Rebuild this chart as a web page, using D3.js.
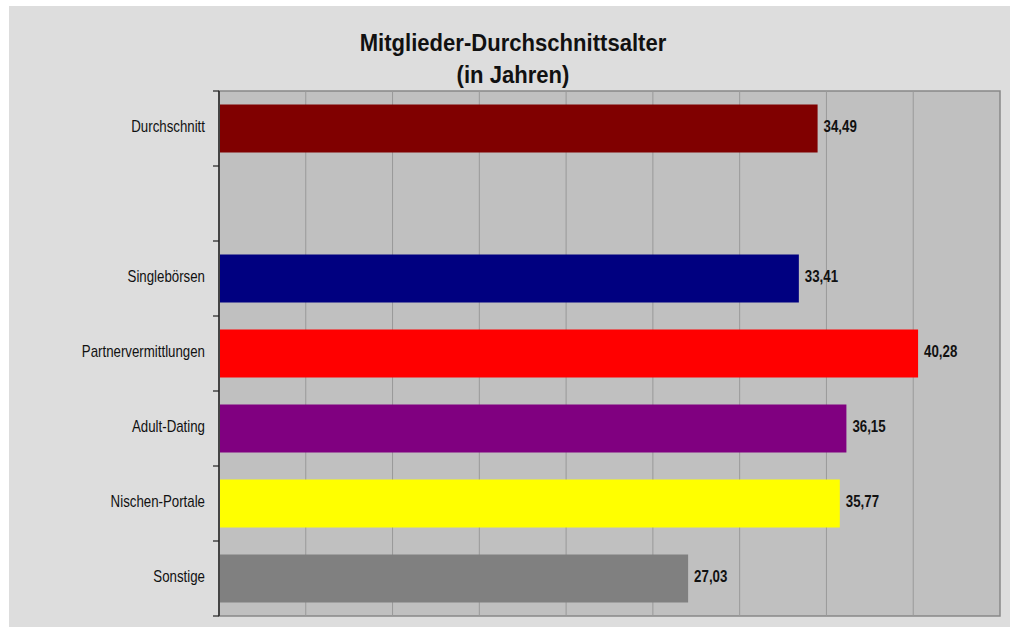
<!DOCTYPE html>
<html>
<head>
<meta charset="utf-8">
<script src="https://cdn.jsdelivr.net/npm/d3@7"></script>
<style>
  body { margin: 0; background: #fff; }
  svg { display: block; }
  text { font-family: "Liberation Sans", Arial, sans-serif; }
</style>
</head>
<body>
<div id="chart"></div>
<script>
var categories = ["Durchschnitt", "", "Singlebörsen", "Partnervermittlungen", "Adult-Dating", "Nischen-Portale", "Sonstige"]
var values = [34.49, null, 33.41, 40.28, 36.15, 35.77, 27.03]
var colors = ["#800000", "none", "#000080", "#ff0000", "#800080", "#ffff00", "#808080"]
var xTicks = [0, 5, 10, 15, 20, 25, 30, 35, 40, 45]
var titleLines = ["Mitglieder-Durchschnittsalter", "(in Jahren)"]

var width = 1011, height = 627
var margin = {top: 91, right: 11, bottom: 11, left: 219}
var w = width - margin.left - margin.right
var h = height - margin.top - margin.bottom

// no narrow font installed, so squeeze Liberation Sans sideways
var narrow = "scale(0.83,1)"

var de = d3.formatLocale({decimal: ",", thousands: ".", grouping: [3], currency: ["", " €"]})
var fmt = de.format(".2f")

var svg = d3.select("#chart")
  .append("svg")
  .attr("width", width)
  .attr("height", height)

// grey chart panel
svg.append("rect")
  .attr("x", 9).attr("y", 6)
  .attr("width", width - 10).attr("height", height - 6)
  .attr("fill", "#dddddd")

// title
svg.append("g")
  .selectAll("g")
  .data(titleLines)
  .enter()
  .append("g")
  .attr("transform", (d, i) => "translate(513," + (51 + i * 32) + ")")
  .append("text")
  .attr("transform", "scale(0.92,1)")
  .attr("text-anchor", "middle")
  .style("font-weight", "bold")
  .style("font-size", "24px")
  .style("fill", "#111")
  .text(d => d)

var g = svg.append("g")
  .attr("transform", "translate(" + margin.left + "," + margin.top + ")")

var x = d3.scaleLinear()
  .domain([0, 45])
  .range([0, w])

var y = d3.scaleBand()
  .domain(categories)
  .range([0, h])
  .paddingInner(0.36)
  .paddingOuter(0.18)

// plot area
g.append("rect")
  .attr("width", w)
  .attr("height", h)
  .attr("fill", "#c0c0c0")
  .attr("stroke", "#888")
  .attr("stroke-width", 1.5)

// vertical gridlines
g.append("g")
  .selectAll("line")
  .data(xTicks.slice(1, -1))
  .enter()
  .append("line")
  .attr("x1", d => x(d)).attr("x2", d => x(d))
  .attr("y1", 0).attr("y2", h)
  .attr("stroke", "#999")
  .attr("stroke-width", 1)

// bars
var rows = categories.map((c, i) => ({cat: c, value: values[i], color: colors[i]}))
  .filter(d => d.value != null)

g.append("g")
  .selectAll("rect")
  .data(rows)
  .enter()
  .append("rect")
  .attr("x", 0)
  .attr("y", d => y(d.cat))
  .attr("width", d => x(d.value))
  .attr("height", y.bandwidth())
  .attr("fill", d => d.color)

// value labels
g.append("g")
  .selectAll("g")
  .data(rows)
  .enter()
  .append("g")
  .attr("transform", d => "translate(" + (x(d.value) + 6) + "," + (y(d.cat) + y.bandwidth() / 2 + 3.5) + ")")
  .append("text")
  .attr("transform", narrow)
  .style("font-weight", "bold")
  .style("font-size", "16px")
  .style("fill", "#111")
  .text(d => fmt(d.value))

// category axis: ticks sit between the bands
var bounds = categories.map(c => y(c) - y.step() * y.paddingInner() / 2).concat([h])
var yAxis = g.append("g")

yAxis.append("line")
  .attr("x1", 0).attr("x2", 0)
  .attr("y1", 0).attr("y2", h)
  .attr("stroke", "#444")
  .attr("stroke-width", 2)

yAxis.selectAll(".tick")
  .data(bounds)
  .enter()
  .append("line")
  .attr("class", "tick")
  .attr("x1", -6).attr("x2", 0)
  .attr("y1", d => d).attr("y2", d => d)
  .attr("stroke", "#222")
  .attr("stroke-width", 1.2)

yAxis.selectAll(".lbl")
  .data(categories)
  .enter()
  .append("g")
  .attr("class", "lbl")
  .attr("transform", d => "translate(-14," + (y(d) + y.bandwidth() / 2 + 3.5) + ")")
  .append("text")
  .attr("transform", narrow)
  .attr("text-anchor", "end")
  .style("font-size", "16px")
  .style("fill", "#111")
  .text(d => d)
</script>
</body>
</html>
